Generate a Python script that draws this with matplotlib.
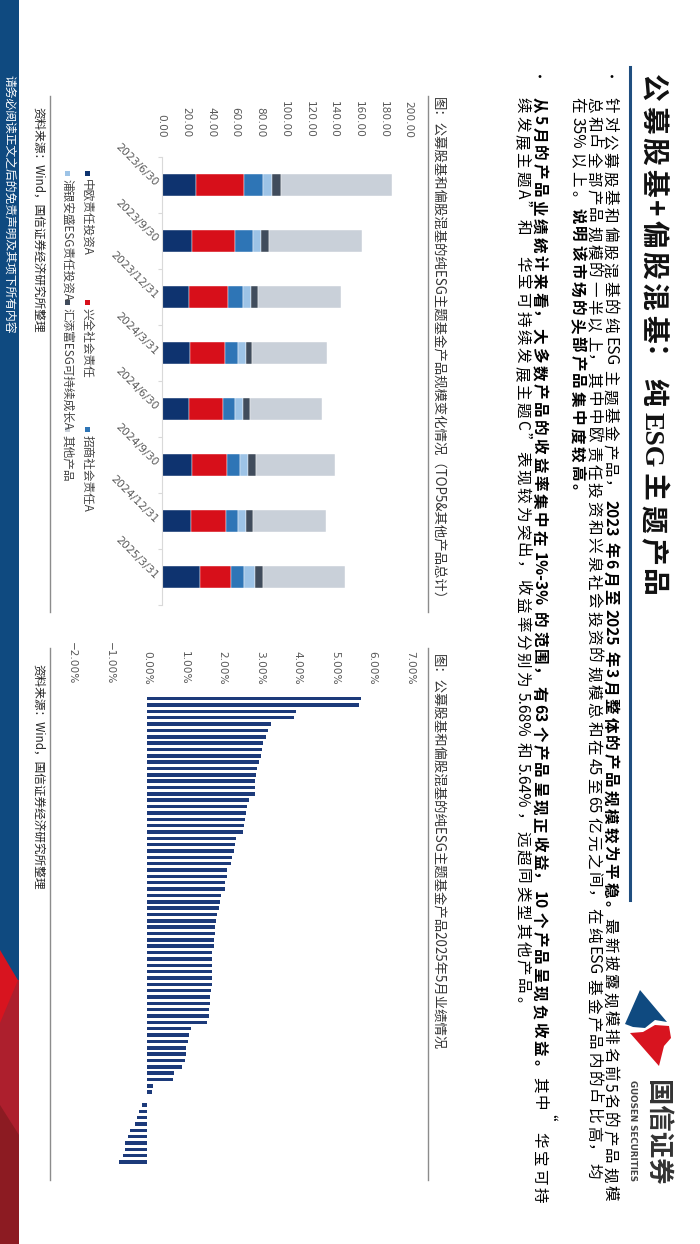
import matplotlib
matplotlib.use("Agg")
import matplotlib.pyplot as plt
from matplotlib.patches import Polygon, Rectangle
import numpy as np

plt.rcParams['font.family'] = ['Noto Sans CJK SC', 'DejaVu Sans']

# ---------------- data ----------------
categories = ['2023/6/30', '2023/9/30', '2023/12/31', '2024/3/31',
              '2024/6/30', '2024/9/30', '2024/12/31', '2025/3/31']
series_names = ['中欧责任投资A', '兴全社会责任', '招商社会责任A',
                '浦银安盛ESG责任投资A', '汇添富ESG可持续成长A', '其他产品']
zhongou = [27.6, 24.3, 22.2, 23.0, 22.4, 24.6, 24.1, 31.1]
xingquan = [39.2, 35.4, 31.4, 28.1, 27.0, 28.1, 27.8, 25.3]
zhaoshang = [15.4, 14.1, 12.2, 10.8, 9.7, 11.1, 10.3, 10.4]
puyin = [7.6, 7.0, 6.5, 6.2, 6.5, 6.5, 5.9, 8.6]
huitianfu = [7.0, 6.2, 5.4, 5.1, 5.7, 6.2, 5.9, 6.4]
others = [89.7, 75.1, 67.6, 60.5, 58.9, 63.8, 58.9, 67.2]
scale_ticks = [0, 20, 40, 60, 80, 100, 120, 140, 160, 180, 200]

returns_pct = [5.68, 5.64, 3.95, 3.92, 3.30, 3.22, 3.16, 3.08, 3.07, 3.03,
               2.99, 2.92, 2.89, 2.88, 2.87, 2.86, 2.70, 2.65, 2.63, 2.60,
               2.59, 2.56, 2.38, 2.34, 2.31, 2.25, 2.24, 2.14, 2.12, 2.07,
               2.07, 1.96, 1.95, 1.91, 1.87, 1.84, 1.81, 1.80, 1.78, 1.77,
               1.74, 1.74, 1.73, 1.73, 1.72, 1.72, 1.69, 1.68, 1.67, 1.66,
               1.65, 1.59, 1.17, 1.12, 1.10, 1.05, 1.03, 1.00, 0.93, 0.72,
               0.68, 0.17, 0.12, 0.00, -0.14, -0.22, -0.27, -0.32, -0.44, -0.50,
               -0.59, -0.59, -0.65, -0.74]
return_ticks = [-2, -1, 0, 1, 2, 3, 4, 5, 6, 7]

title = '公募股基+偏股混基：纯ESG主题产品'
bullet1 = [
    [('针对公募股基和偏股混基的纯ESG主题基金产品，', 'normal'),
     ('2023年6月至2025年3月整体的产品规模较为平稳。', 'bold'),
     ('最新披露规模排名前5名的产品规模', 'normal')],
    [('总和占全部产品规模的一半以上，其中中欧责任投资和兴泉社会投资的规模总和在45至65亿元之间，在纯ESG基金产品内的占比高，均', 'normal')],
    [('在35%以上。', 'normal'), ('说明该市场的头部产品集中度较高。', 'bold')],
]
bullet2 = [
    [('从5月的产品业绩统计来看，大多数产品的收益率集中在1%-3%的范围，有63个产品呈现正收益，10个产品呈现负收益。', 'bold'),
     ('其中“华宝可持', 'normal')],
    [('续发展主题A”和“华宝可持续发展主题C”表现较为突出，收益率分别为5.68%和5.64%，远超同类型其他产品。', 'normal')],
]
caption1 = '图：公募股基和偏股混基的纯ESG主题基金产品规模变化情况（TOP5&其他产品总计）'
caption2 = '图：公募股基和偏股混基的纯ESG主题基金产品2025年5月业绩情况'
source = '资料来源：Wind，国信证券经济研究所整理'
disclaimer = '请务必阅读正文之后的免责声明及其项下所有内容'

# ---------------- figure ----------------
W, H = 700, 1244
fig = plt.figure(figsize=(W / 100, H / 100), dpi=100)
fig.patch.set_facecolor('white')
renderer = fig.canvas.get_renderer()


def fx(x):
    return x / W


def fy(y):
    return 1 - y / H


def add_ax(left, top, right, bottom):
    return fig.add_axes([fx(left), fy(bottom), (right - left) / W, (bottom - top) / H])


def vtext(x, y, s, size, weight='normal', color='black', family=None):
    kw = {}
    if family is not None:
        kw['family'] = family
    return fig.text(fx(x), fy(y), s, rotation=-90, ha='center', va='top',
                    fontsize=size, fontweight=weight, color=color, **kw)


def vtok(xc, y, s, size, weight='normal', color='black', family=None):
    """Baseline-anchored rotated token: xc is the visual centre of the line."""
    kw = {}
    if family is not None:
        kw['family'] = family
    em = size * 100 / 72
    return fig.text(fx(xc - 0.38 * em), fy(y), s, rotation=-90, rotation_mode='anchor',
                    ha='left', va='baseline', fontsize=size, fontweight=weight,
                    color=color, **kw)


def tokenize(s):
    toks, buf = [], ''
    for ch in s:
        if ch.isascii():
            buf += ch
        else:
            if buf:
                toks.append(buf)
                buf = ''
            toks.append(ch)
    if buf:
        toks.append(buf)
    return toks


def make_tokens(runs, latin_family=None):
    out = []
    for s, w in runs:
        for t in tokenize(s):
            fam = latin_family if (latin_family and t.isascii() and t.isalpha()) else None
            out.append((t, w, fam))
    return out


def measure(tokens, size):
    hs = []
    for t, w, fam in tokens:
        tt = vtok(0, 0, t, size, w, 'black', fam)
        hs.append(tt.get_window_extent(renderer).height)
        tt.remove()
    return hs


def vtrack(x, y, runs, size, color='black', k=1.0, latin_family=None):
    toks = make_tokens(runs, latin_family)
    hs = measure(toks, size)
    for (t, w, fam), h in zip(toks, hs):
        vtok(x, y + h * (k - 1) / 2, t, size, w, color, fam)
        y += h * k
    return y


def natural_len(runs, size, latin_family=None):
    return sum(measure(make_tokens(runs, latin_family), size))


def vline(x, y0, y1, color='#8c8c8c', lw=1.0):
    fig.add_artist(plt.Line2D([fx(x), fx(x)], [fy(y0), fy(y1)], color=color, lw=lw,
                              transform=fig.transFigure))


# left blue strip and red corner
fig.add_artist(Rectangle((0, fy(H)), fx(19), 1, transform=fig.transFigure,
                         facecolor='#0f4a80', edgecolor='none'))
fig.add_artist(Polygon([(0, fy(950)), (fx(19), fy(982)), (fx(19), fy(H)), (0, fy(H))],
                       closed=True, transform=fig.transFigure, facecolor='#d8141f', edgecolor='none'))
fig.add_artist(Polygon([(fx(18), fy(980)), (fx(19), fy(980)), (fx(19), fy(H)), (0, fy(H)), (0, fy(1023))],
                       closed=True, transform=fig.transFigure, facecolor='#ad1f2d', edgecolor='none'))
fig.add_artist(Polygon([(0, fy(1105)), (fx(19), fy(1135)), (fx(19), fy(H)), (0, fy(H))],
                       closed=True, transform=fig.transFigure, facecolor='#8c1b22', edgecolor='none'))
vtext(9.5, 75, disclaimer, 8.5, color='white')

# title and rule
title_runs = [(title, 'bold')]
k_title = (598 - 72) / natural_len(title_runs, 20, 'Liberation Serif')
vtrack(655, 72, title_runs, 20, '#111111', k_title, latin_family='Liberation Serif')
vline(630, 67, 900, color='#1f4e80', lw=2.2)

# logo
fig.add_artist(Polygon([(fx(640), fy(990)), (fx(667), fy(1022)), (fx(655), fy(1020)),
                        (fx(645), fy(1028)), (fx(633), fy(1027)), (fx(625), fy(1024))],
                       closed=True, transform=fig.transFigure, facecolor='#0f4a80', edgecolor='none'))
fig.add_artist(Polygon([(fx(630), fy(1033)), (fx(643), fy(1032)), (fx(655), fy(1025)),
                        (fx(669), fy(1026)), (fx(671), fy(1038)), (fx(664), fy(1046)),
                        (fx(659), fy(1066))],
                       closed=True, transform=fig.transFigure, facecolor='#d8141f', edgecolor='none'))
vtext(657, 1080, '国信证券', 19, 'bold', '#333333')
vtext(633, 1080, 'GUOSEN SECURITIES', 6.3, 'bold', '#444444', family='DejaVu Sans')

# bullets
bsize = 11.2
k_bul = (1202 - 96) / natural_len(bullet1[0], bsize)
for bx, block in ((611, bullet1), (540, bullet2)):
    fig.text(fx(bx), fy(78), '•', ha='center', va='center', fontsize=10, color='black')
    for i, runs in enumerate(block):
        vtrack(bx - i * 16.5, 96, runs, bsize, 'black', k_bul)

# captions / source / frames
vtext(438, 97, caption1, 9.6, color='#333333')
vtext(438, 654, caption2, 9.6, color='#333333')
vtext(38, 107, source, 8.4, color='#222222')
vtext(38, 664, source, 8.4, color='#222222')
vline(428, 96, 612)
vline(50, 96, 612)
vline(428, 648, 1180)
vline(50, 648, 1180)

# ---------------- left chart: stacked bars ----------------
ax1 = add_ax(161.7, 157, 408.3, 605)
series = [zhongou, xingquan, zhaoshang, puyin, huitianfu, others]
colors = ['#0e336f', '#d70f1a', '#2e75b6', '#9dc3e6', '#404c5c', '#c9d0d9']
ypos = np.arange(len(categories))
left = np.zeros(len(categories))
for vals, col, name in zip(series, colors, series_names):
    ax1.barh(ypos, vals, left=left, height=0.4, color=col, label=name,
             edgecolor='white', linewidth=0.3)
    left += np.array(vals)
ax1.set_xlim(0, 200)
ax1.set_ylim(len(categories) - 0.5, -0.5)
ax1.xaxis.tick_top()
ax1.set_xticks(scale_ticks)
ax1.set_xticklabels([f'{v:.2f}' for v in scale_ticks], rotation=-90, fontsize=7.6,
                    color='#595959', family='DejaVu Sans')
ax1.tick_params(axis='x', length=0, pad=14)
ax1.set_yticks(ypos)
ax1.set_yticklabels(categories, rotation=-45, ha='right', va='center',
                    rotation_mode='anchor', fontsize=7.8, color='#595959', family='DejaVu Sans')
ax1.tick_params(axis='y', length=0, pad=4)
ax1.set_yticks(np.arange(-0.5, len(categories)), minor=True)
ax1.tick_params(axis='y', which='minor', length=3, color='#d9d9d9', width=0.8)
for s in ('top', 'right', 'bottom'):
    ax1.spines[s].set_visible(False)
ax1.spines['left'].set_color('#d9d9d9')
ax1.spines['left'].set_linewidth(0.8)
ax1.set_facecolor('none')

# legend (rotated layout)
leg_cols = [171, 300, 427]
leg_rows = [87, 67]
for i, (name, col) in enumerate(zip(series_names, colors)):
    r, c = divmod(i, 3)
    x = leg_rows[r]
    y = leg_cols[c]
    fig.add_artist(Rectangle((fx(x - 2.5), fy(y + 5)), 5 / W, 5 / H, transform=fig.transFigure,
                             facecolor=col, edgecolor='none'))
    vtext(x, y + 8, name, 8.4, color='#404040')

# ---------------- right chart: returns ----------------
ax2 = add_ax(71.8, 695.5, 410.2, 1165.2)
yr = np.arange(len(returns_pct))
ax2.barh(yr, returns_pct, height=0.55, color='#1c3a7a', edgecolor='none')
ax2.set_xlim(-2, 7)
ax2.set_ylim(len(returns_pct) - 0.5, -0.5)
ax2.xaxis.tick_top()
ax2.set_xticks(return_ticks)
ax2.set_xticklabels([f'{v:.2f}%'.replace('-', '\u2212') for v in return_ticks], rotation=-90,
                    fontsize=7.6, color='#595959', family='DejaVu Sans')
ax2.tick_params(axis='x', length=0, pad=8)
ax2.set_yticks([])
for s in ax2.spines.values():
    s.set_visible(False)
ax2.set_facecolor('none')

fig.savefig('out.png', dpi=100, facecolor='white')
